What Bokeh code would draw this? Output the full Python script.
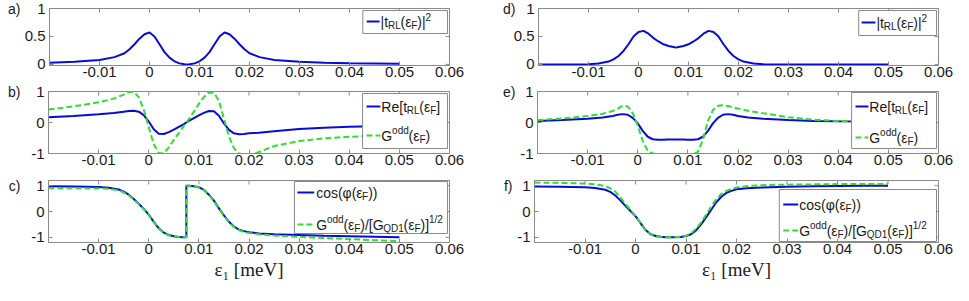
from bokeh.plotting import figure
from bokeh.layouts import column, row
from bokeh.models import Range1d, FixedTicker, LinearAxis, Spacer
from bokeh.core.properties import value
from bokeh.embed import file_html
from bokeh.resources import INLINE

# ---------------- tick labels / texts ----------------
x_ticks = [-0.01, 0, 0.01, 0.02, 0.03, 0.04, 0.05, 0.06]
x_tick_labels = ["-0.01", "0", "0.01", "0.02", "0.03", "0.04", "0.05", "0.06"]
y_ticks_t2 = [0, 0.5, 1]
y_tick_labels_t2 = ["0", "0.5", "1"]
y_ticks_pm = [-1, 0, 1]
y_tick_labels_pm = ["-1", "0", "1"]
x_label = "ε₁ [meV]"
panel_labels = ["a)", "b)", "c)", "d)", "e)", "f)"]

# ---------------- panel a : |t_RL|^2 ----------------
xa = [-0.02, -0.015, -0.01, -0.007, -0.005, -0.004, -0.003, -0.002, -0.001, 0.0,
      0.001, 0.002, 0.003, 0.004, 0.005, 0.006, 0.007, 0.0075, 0.008, 0.009,
      0.01, 0.011, 0.012, 0.013, 0.014, 0.015, 0.016, 0.017, 0.018, 0.019,
      0.02, 0.022, 0.025, 0.03, 0.035, 0.04, 0.045, 0.05]
t2_a = [0.03, 0.045, 0.08, 0.13, 0.2, 0.27, 0.36, 0.46, 0.54, 0.57,
        0.5, 0.36, 0.22, 0.12, 0.055, 0.018, 0.002, 0.0, 0.002, 0.018,
        0.055, 0.12, 0.22, 0.36, 0.5, 0.57, 0.54, 0.46, 0.36, 0.27,
        0.2, 0.13, 0.08, 0.045, 0.03, 0.02, 0.015, 0.01]

# ---------------- panel b : Re t_RL and G_odd ----------------
xb = [-0.02, -0.015, -0.01, -0.007, -0.005, -0.004, -0.003, -0.002, -0.001, 0.0,
      0.001, 0.002, 0.003, 0.004, 0.005, 0.006, 0.007, 0.008, 0.009, 0.01,
      0.011, 0.012, 0.013, 0.014, 0.015, 0.016, 0.017, 0.018, 0.019, 0.02,
      0.021, 0.022, 0.025, 0.03, 0.035, 0.04, 0.045, 0.05]
re_b = [0.17, 0.21, 0.27, 0.31, 0.35, 0.37, 0.38, 0.35, 0.24, 0.03,
        -0.22, -0.36, -0.37, -0.31, -0.23, -0.14, -0.05, 0.05, 0.14, 0.23,
        0.31, 0.37, 0.36, 0.22, -0.03, -0.24, -0.35, -0.38, -0.37, -0.35,
        -0.34, -0.33, -0.28, -0.21, -0.17, -0.14, -0.12, -0.11]
godd_b = [0.42, 0.52, 0.65, 0.77, 0.9, 0.98, 0.99, 0.82, 0.42, -0.15,
          -0.7, -0.98, -1.0, -0.8, -0.56, -0.34, -0.11, 0.11, 0.35, 0.6,
          0.82, 0.97, 0.96, 0.7, 0.12, -0.45, -0.83, -1.0, -1.05, -1.05,
          -1.02, -0.95, -0.76, -0.6, -0.51, -0.46, -0.43, -0.41]

# ---------------- panel c : cos(phi) and normalised G_odd ----------------
xc = [-0.02, -0.015, -0.01, -0.008, -0.006, -0.005, -0.004, -0.003, -0.002, -0.001,
      0.0, 0.001, 0.002, 0.003, 0.004, 0.005, 0.006, 0.007, 0.0075, 0.0075,
      0.008, 0.009, 0.01, 0.011, 0.012, 0.013, 0.014, 0.015, 0.016, 0.017,
      0.018, 0.019, 0.02, 0.022, 0.025, 0.03, 0.035, 0.04, 0.045, 0.05]
cos_c = [0.98, 0.97, 0.95, 0.92, 0.85, 0.77, 0.65, 0.48, 0.3, 0.1,
         -0.12, -0.4, -0.65, -0.82, -0.91, -0.96, -0.99, -1.0, -1.0, 1.0,
         1.0, 0.98, 0.94, 0.84, 0.65, 0.42, 0.12, -0.15, -0.4, -0.58,
         -0.7, -0.76, -0.8, -0.85, -0.88, -0.91, -0.94, -0.96, -0.98, -1.0]
gnorm_c = [0.9, 0.9, 0.89, 0.88, 0.82, 0.74, 0.63, 0.46, 0.29, 0.09,
           -0.13, -0.41, -0.66, -0.83, -0.92, -0.97, -0.99, -1.0, -1.0, 1.0,
           1.0, 0.98, 0.93, 0.83, 0.64, 0.41, 0.11, -0.16, -0.42, -0.6,
           -0.72, -0.79, -0.83, -0.88, -0.93, -0.98, -1.03, -1.07, -1.11, -1.15]

# ---------------- panel d : |t_RL|^2 ----------------
xd = [-0.02, -0.015, -0.01, -0.008, -0.006, -0.005, -0.004, -0.003, -0.002, -0.001,
      0.0, 0.001, 0.002, 0.003, 0.004, 0.005, 0.006, 0.007, 0.0075, 0.008,
      0.009, 0.01, 0.011, 0.012, 0.013, 0.014, 0.015, 0.016, 0.017, 0.018,
      0.019, 0.02, 0.021, 0.023, 0.025, 0.028, 0.03, 0.04, 0.05]
t2_d = [0.0, 0.0, 0.004, 0.015, 0.05, 0.09, 0.15, 0.24, 0.36, 0.5,
        0.58, 0.6, 0.55, 0.47, 0.41, 0.36, 0.33, 0.31, 0.3, 0.31,
        0.33, 0.36, 0.41, 0.47, 0.55, 0.6, 0.58, 0.5, 0.36, 0.24,
        0.15, 0.09, 0.05, 0.015, 0.004, 0.0, 0.0, 0.0, 0.0]

# ---------------- panel e : Re t_RL and G_odd ----------------
xe = [-0.02, -0.015, -0.01, -0.007, -0.005, -0.004, -0.003, -0.002, -0.001, 0.0,
      0.001, 0.002, 0.003, 0.004, 0.005, 0.006, 0.0075, 0.009, 0.01, 0.011,
      0.012, 0.013, 0.014, 0.015, 0.016, 0.017, 0.018, 0.019, 0.02, 0.022,
      0.025, 0.03, 0.035, 0.04, 0.045, 0.05]
re_e = [0.05, 0.08, 0.12, 0.16, 0.21, 0.25, 0.27, 0.25, 0.15, -0.03,
        -0.27, -0.46, -0.54, -0.56, -0.56, -0.55, -0.55, -0.55, -0.56, -0.56,
        -0.54, -0.46, -0.27, -0.03, 0.15, 0.25, 0.27, 0.25, 0.21, 0.16,
        0.12, 0.08, 0.05, 0.04, 0.035, 0.03]
godd_e = [0.08, 0.13, 0.21, 0.28, 0.37, 0.45, 0.54, 0.52, 0.3, -0.1,
          -0.6, -0.92, -1.0, -1.02, -1.03, -1.03, -1.03, -1.03, -1.03, -1.02,
          -0.95, -0.55, 0.05, 0.4, 0.54, 0.56, 0.53, 0.49, 0.45, 0.38,
          0.3, 0.17, 0.09, 0.05, 0.04, 0.03]

# ---------------- panel f : cos(phi) and normalised G_odd ----------------
xf = [-0.02, -0.015, -0.01, -0.008, -0.006, -0.005, -0.004, -0.003, -0.002, -0.001,
      0.0, 0.001, 0.002, 0.003, 0.004, 0.005, 0.006, 0.0075, 0.009, 0.01,
      0.011, 0.012, 0.013, 0.014, 0.015, 0.016, 0.017, 0.018, 0.019, 0.02,
      0.022, 0.025, 0.03, 0.035, 0.04, 0.045, 0.05]
cos_f = [0.97, 0.96, 0.94, 0.91, 0.84, 0.76, 0.62, 0.43, 0.22, 0.02,
         -0.18, -0.45, -0.72, -0.88, -0.95, -0.98, -1.0, -1.0, -0.99, -0.95,
         -0.88, -0.73, -0.5, -0.22, 0.07, 0.36, 0.57, 0.72, 0.8, 0.86,
         0.9, 0.93, 0.96, 0.98, 0.99, 1.0, 1.0]
gnorm_f = [1.12, 1.11, 1.08, 1.05, 0.98, 0.9, 0.77, 0.55, 0.3, 0.06,
           -0.17, -0.45, -0.72, -0.88, -0.95, -0.98, -1.0, -1.0, -0.98, -0.94,
           -0.85, -0.66, -0.42, -0.12, 0.2, 0.48, 0.68, 0.8, 0.88, 0.93,
           0.98, 1.02, 1.04, 1.05, 1.06, 1.06, 1.07]

# ---------------- styling / layout ----------------
FW = 406
X_RANGE = (-0.02, 0.06)
FONT = "Liberation Sans"
SERIF = "Liberation Serif"
BLUE = "#0a0ad6"
GREEN = "#30dd30"
GRAY = "#8a8a8a"
TXT = "#1a1a1a"

ADV = {" ": 0.278, "(": 0.333, ")": 0.333, "/": 0.278, "[": 0.278, "]": 0.278,
       "|": 0.26, "D": 0.722, "F": 0.611, "G": 0.778, "L": 0.556, "Q": 0.778,
       "R": 0.722, "c": 0.5, "d": 0.556, "e": 0.556, "o": 0.556, "s": 0.5,
       "t": 0.278, "ε": 0.45, "φ": 0.65}


def text_w(s, size):
    return sum(ADV.get(ch, 0.556) for ch in s) * size


def px_x(px):
    return X_RANGE[0] + px / FW * (X_RANGE[1] - X_RANGE[0])


def px_y(yr, fh, py):
    return yr[1] - py / fh * (yr[1] - yr[0])


def make_panel(y_range, y_ticks, y_labels, fh, left, right, top, bottom,
               label, label_standoff, with_title=False):
    p = figure(width=left + FW + right, height=top + fh + bottom,
               x_range=Range1d(*X_RANGE), y_range=Range1d(*y_range),
               output_backend="svg", toolbar_location=None,
               min_border_left=left, min_border_right=right,
               min_border_top=top, min_border_bottom=bottom,
               background_fill_color="white", border_fill_color="white")
    p.grid.visible = False
    p.outline_line_color = GRAY
    p.outline_line_width = 1
    xax = p.xaxis[0]
    yax = p.yaxis[0]
    for ax, ticks, labels in ((xax, x_ticks, x_tick_labels), (yax, y_ticks, y_labels)):
        ax.ticker = FixedTicker(ticks=ticks)
        ax.major_label_overrides = {t: l for t, l in zip(ticks, labels)}
        ax.major_tick_in = 4
        ax.major_tick_out = 0
        ax.minor_tick_line_color = None
        ax.major_tick_line_color = GRAY
        ax.axis_line_color = GRAY
        ax.major_label_text_font = FONT
        ax.major_label_text_font_size = "15px"
        ax.major_label_text_color = TXT
    xax.major_label_standoff = 1
    yax.major_label_standoff = 4
    if with_title:
        xax.axis_label = x_label
        xax.axis_label_text_font = SERIF
        xax.axis_label_text_font_size = "19px"
        xax.axis_label_text_font_style = "normal"
        xax.axis_label_text_color = TXT
        xax.axis_label_standoff = 2
    # panel letter, placed beside the y = 1 tick by an outer label-only axis
    lab_ax = LinearAxis(ticker=FixedTicker(ticks=[1]), major_label_overrides={1: label},
                        major_tick_in=0, major_tick_out=0, axis_line_color=None,
                        major_tick_line_color=None, minor_tick_line_color=None,
                        major_label_standoff=label_standoff,
                        major_label_text_font=FONT, major_label_text_font_size="14px",
                        major_label_text_color=TXT)
    p.add_layout(lab_ax, "left")
    # inward ticks on the top and right edges of the box
    top_y = [y_range[1]] * len(x_ticks)
    p.segment(x0=x_ticks, y0=top_y, x1=x_ticks, y1=[px_y(y_range, fh, 4)] * len(x_ticks),
              line_color=GRAY, line_width=1)
    right_x = [X_RANGE[1]] * len(y_ticks)
    p.segment(x0=right_x, y0=y_ticks, x1=[px_x(FW - 4)] * len(y_ticks), y1=y_ticks,
              line_color=GRAY, line_width=1)
    return p


def legend(p, yr, fh, box, entries, text_x):
    l, r, t, b = box
    p.quad(left=[px_x(l)], right=[px_x(r)], top=[px_y(yr, fh, t)], bottom=[px_y(yr, fh, b)],
           fill_color="white", line_color=GRAY, line_width=1)
    for (x0, x1, yy, color, dash, pieces) in entries:
        p.line([px_x(x0), px_x(x1)], [px_y(yr, fh, yy), px_y(yr, fh, yy)],
               line_color=color, line_width=2, line_dash=dash)
        cx = text_x
        for s, kind in pieces:
            size = 14 if kind == "n" else 10
            dy = {"n": 0, "sub": 4, "sup": -5}[kind]
            p.text(x=[px_x(cx)], y=[px_y(yr, fh, yy + dy)], text=[s],
                   text_font=value(FONT), text_font_size=value(f"{size}px"),
                   text_baseline="middle", text_align="left", text_color=TXT)
            cx += text_w(s, size)


T2 = [("|t", "n"), ("RL", "sub"), ("(ε", "n"), ("F", "sub"), (")|", "n"), ("2", "sup")]
RE = [("Re[t", "n"), ("RL", "sub"), ("(ε", "n"), ("F", "sub"), ("]", "n")]
GO = [("G", "n"), ("odd", "sup"), ("(ε", "n"), ("F", "sub"), (")", "n")]
CS = [("cos(φ(ε", "n"), ("F", "sub"), ("))", "n")]
GN = [("G", "n"), ("odd", "sup"), ("(ε", "n"), ("F", "sub"), (")/[G", "n"),
      ("QD1", "sub"), ("(ε", "n"), ("F", "sub"), (")]", "n"), ("1/2", "sup")]

LW = 2
DASH = "6 3"

R_T2 = (-0.02, 1)
R_PM = (-1, 1)
R_C = (-1.2, 1.2)
H1, H2, H3 = 57, 62, 62
PAD = 5              # spacer before the left column
LL, LR = 38, 51      # left column borders
RL_, RR = 32, 15     # right column borders

# left column
pa = make_panel(R_T2, y_ticks_t2, y_tick_labels_t2, H1, LL, LR, 8, 18, panel_labels[0], 1)
pa.line(xa, t2_a, line_color=BLUE, line_width=LW)
legend(pa, R_T2, H1, (318, 404, 2, 25), [(322, 335, 13, BLUE, "solid", T2)], 336)

pb = make_panel(R_PM, y_ticks_pm, y_tick_labels_pm, H2, LL, LR, 8, 18, panel_labels[1], 8)
pb.line(xb, re_b, line_color=BLUE, line_width=LW)
pb.line(xb, godd_b, line_color=GREEN, line_width=LW, line_dash=DASH)
legend(pb, R_PM, H2, (318, 404, 2, 57), [(322, 336, 15, BLUE, "solid", RE),
                                         (322, 336, 44, GREEN, DASH, GO)], 337)

pc = make_panel(R_C, y_ticks_pm, y_tick_labels_pm, H3, LL, LR, 9, 43, panel_labels[2], 8, True)
pc.line(xc, cos_c, line_color=BLUE, line_width=LW)
pc.line(xc, gnorm_c, line_color=GREEN, line_width=LW, line_dash=DASH)
legend(pc, R_C, H3, (249, 404, 1, 53), [(252, 269, 12, BLUE, "solid", CS),
                                        (252, 269, 44, GREEN, DASH, GN)], 271)

# right column
pd_ = make_panel(R_T2, y_ticks_t2, y_tick_labels_t2, H1, RL_, RR, 8, 18, panel_labels[3], -5)
pd_.line(xd, t2_d, line_color=BLUE, line_width=LW)
legend(pd_, R_T2, H1, (325, 404, 2, 27), [(328, 342, 14, BLUE, "solid", T2)], 343)

pe = make_panel(R_PM, y_ticks_pm, y_tick_labels_pm, H2, RL_, RR, 8, 18, panel_labels[4], 2)
pe.line(xe, re_e, line_color=BLUE, line_width=LW)
pe.line(xe, godd_e, line_color=GREEN, line_width=LW, line_dash=DASH)
legend(pe, R_PM, H2, (318, 404, 1, 57), [(322, 335, 15, BLUE, "solid", RE),
                                         (322, 335, 46, GREEN, DASH, GO)], 336)

pf = make_panel(R_C, y_ticks_pm, y_tick_labels_pm, H3, RL_, RR, 9, 43, panel_labels[5], 2, True)
pf.line(xf, cos_f, line_color=BLUE, line_width=LW)
pf.line(xf, gnorm_f, line_color=GREEN, line_width=LW, line_dash=DASH)
legend(pf, R_C, H3, (246, 404, 9, 61), [(250, 265, 24, BLUE, "solid", CS),
                                        (250, 265, 50, GREEN, DASH, GN)], 266)

rows = []
for left_p, right_p in ((pa, pd_), (pb, pe), (pc, pf)):
    rows.append(row(Spacer(width=PAD, height=left_p.height), left_p, right_p))
layout = column(*rows)
open("out.html", "w").write(file_html(layout, INLINE))
